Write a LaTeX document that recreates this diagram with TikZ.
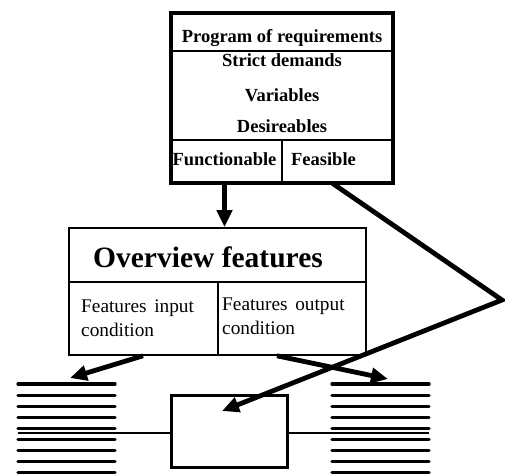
\documentclass[tikz,border=0pt]{standalone}
\usepackage{fontspec}
\setmainfont{Liberation Serif}
\usetikzlibrary{arrows.meta,calc,positioning}

\begin{document}
\begin{tikzpicture}[x=1pt, y=-1pt, >={Triangle[length=17pt,width=15pt]}, line join=miter]
\tikzstyle{bigbox}=[draw=black, line width=3.4pt, inner sep=0pt]
\tikzstyle{thinbox}=[draw=black, line width=1.6pt, inner sep=0pt]
\tikzstyle{head}=[inner sep=0pt, anchor=base, font=\bfseries\fontsize{18.5}{22}\selectfont]
\tikzstyle{cond}=[inner sep=0pt, anchor=north west, align=left, font=\fontsize{19.3}{24}\selectfont]
\tikzstyle{heavy}=[->, line width=4.8pt]
\tikzstyle{rung}=[line width=3.2pt, line cap=round]
\useasboundingbox (0,0) rectangle (505,473);

\node[bigbox, minimum width=222pt, minimum height=170pt] (req) at (282,98) {};
\draw[line width=2pt] (req.west |- 0,51) -- (req.east |- 0,51);
\draw[line width=2pt] (req.west |- 0,140) -- (req.east |- 0,140);
\draw[line width=2pt] (282,140) -- (req.south -| 282,0);

\node[thinbox, minimum width=297pt, minimum height=127pt] (ovw) at (217.5,291.5) {};
\draw[line width=1.6pt] (ovw.west |- 0,282) -- (ovw.east |- 0,282);
\draw[line width=1.6pt] (218,282) -- (ovw.south -| 218,0);

\node[draw=black, line width=3pt, inner sep=0pt, minimum width=116pt, minimum height=72pt] (proc) at (229,431) {};

\node[head] (prog) at (282,43) {Program of requirements};
\node[head] (strict) at (282,67) {Strict demands};
\node[head] (vars) at (282,102) {Variables};
\node[head] (desir) at (282,133) {Desireables};
\node[head] (fun) at (224.5,165) {Functionable};
\node[head] (feas) at (323.5,165) {Feasible};
\node[head, font=\bfseries\fontsize{29.5}{34}\selectfont] (ovwtitle) at (208,267) {Overview features};
\node[cond] (fin) at (81,300) {Features\hspace{0.4em}input\\condition};
\node[cond] (fout) at (222,298) {Features\hspace{0.4em}output\\condition};

\foreach \i in {0,...,8} {
  \draw[rung] (18,{384+11.1*\i}) -- (115,{384+11.1*\i});
  \draw[rung] (332,{384+11.1*\i}) -- (429,{384+11.1*\i});
}
\coordinate (lhatch) at (18,433);
\coordinate (rhatch) at (429,433);
\draw[line width=2pt] (lhatch) -- (lhatch -| proc.west);
\draw[line width=2pt] (proc.east |- rhatch) -- (rhatch);

\coordinate (fstart) at (332,183);
\coordinate (bend) at (502,300);
\coordinate (ptarget) at (222,411);
\coordinate (ltop) at (70,378);
\coordinate (rtop) at (388,379);
\draw[heavy] (req.south -| fun) -- (ovw.north -| fun);
\draw[heavy] (fstart) -- (bend) -- (ptarget);
\draw[heavy] (ovw.south -| 143,0) -- (ltop);
\draw[heavy] (ovw.south -| 277,0) -- (rtop);
\end{tikzpicture}
\end{document}
